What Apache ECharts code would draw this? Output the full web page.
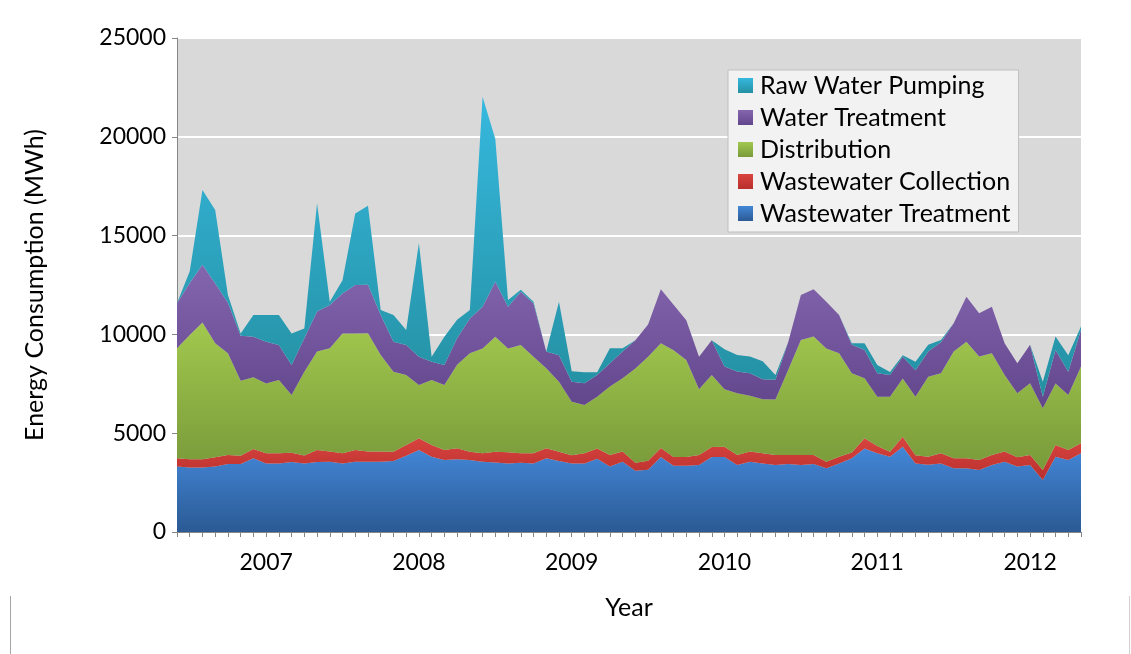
<!DOCTYPE html>
<html>
<head>
<meta charset="utf-8">
<script src="https://cdn.jsdelivr.net/npm/echarts@6/dist/echarts.min.js"></script>
<style>
  html, body { margin: 0; padding: 0; background: #ffffff; }
  #chart { width: 1131px; height: 654px; }
</style>
</head>
<body>
<div id="chart"></div>
<script>
// Monthly categories, June 2006 – May 2012
const months = [
  "2006-06","2006-07","2006-08","2006-09","2006-10","2006-11","2006-12",
  "2007-01","2007-02","2007-03","2007-04","2007-05","2007-06","2007-07","2007-08","2007-09","2007-10","2007-11","2007-12",
  "2008-01","2008-02","2008-03","2008-04","2008-05","2008-06","2008-07","2008-08","2008-09","2008-10","2008-11","2008-12",
  "2009-01","2009-02","2009-03","2009-04","2009-05","2009-06","2009-07","2009-08","2009-09","2009-10","2009-11","2009-12",
  "2010-01","2010-02","2010-03","2010-04","2010-05","2010-06","2010-07","2010-08","2010-09","2010-10","2010-11","2010-12",
  "2011-01","2011-02","2011-03","2011-04","2011-05","2011-06","2011-07","2011-08","2011-09","2011-10","2011-11","2011-12",
  "2012-01","2012-02","2012-03","2012-04","2012-05"
];

// Year labels shown under the January of each year
const yearTicks = ["2007", "2008", "2009", "2010", "2011", "2012"];

// Energy consumption by process (MWh per month)
const wastewaterTreatment = [
  3310, 3260, 3260, 3310, 3440, 3440, 3730, 3470, 3470, 3540, 3470, 3540,
  3560, 3470, 3560, 3560, 3560, 3590, 3860, 4150, 3810, 3640, 3680, 3640,
  3560, 3520, 3470, 3510, 3470, 3730, 3590, 3470, 3470, 3710, 3310, 3560,
  3100, 3150, 3800, 3350, 3350, 3390, 3800, 3800, 3390, 3560, 3470, 3390,
  3440, 3390, 3440, 3220, 3470, 3730, 4230, 3980, 3810, 4320, 3470, 3400,
  3470, 3220, 3220, 3140, 3390, 3560, 3310, 3390, 2630, 3810, 3640, 3980
];
const wastewaterCollection = [
  420, 420, 420, 470, 460, 420, 470, 510, 510, 470, 400, 610,
  510, 510, 590, 510, 510, 470, 540, 590, 590, 510, 560, 420,
  420, 540, 560, 470, 510, 510, 470, 420, 510, 520, 590, 510,
  400, 450, 450, 450, 450, 510, 500, 520, 510, 510, 510, 510,
  460, 510, 460, 340, 340, 290, 510, 370, 250, 500, 420, 410,
  510, 510, 510, 510, 510, 510, 470, 510, 510, 590, 510, 510
];
const distribution = [
  5570, 6290, 6920, 5770, 5140, 3800, 3630, 3540, 3710, 2920, 4240, 4980,
  5230, 6070, 5900, 5990, 4890, 4050, 3540, 2700, 3290, 3290, 4220, 4980,
  5310, 5820, 5260, 5480, 4890, 4050, 3540, 2700, 2450, 2620, 3460, 3710,
  4780, 5270, 5300, 5400, 4900, 3330, 3640, 2910, 3120, 2830, 2740, 2800,
  4300, 5820, 5990, 5730, 5230, 4020, 3040, 2500, 2780, 2950, 2950, 4050,
  4050, 5400, 5900, 5230, 5140, 3880, 3240, 3630, 3120, 3120, 2780, 3880
];
const waterTreatment = [
  2280, 2630, 2920, 3030, 2560, 2270, 2050, 2110, 1770, 1520, 1690, 2030,
  2190, 2020, 2450, 2450, 2020, 1520, 1520, 1430, 930, 1010, 1350, 1770,
  2110, 2780, 2110, 2700, 2700, 840, 1350, 1010, 1100, 1100, 1180, 1350,
  1420, 1630, 2740, 2300, 2020, 1640, 1770, 1140, 1100, 1140, 1010, 1000,
  1400, 2280, 2400, 2360, 1940, 1430, 1430, 1180, 1100, 1100, 1350, 1270,
  1570, 1430, 2280, 2190, 2360, 1600, 1520, 1940, 590, 1690, 1180, 1860
];
const rawWaterPumping = [
  0, 600, 3790, 3710, 400, 120, 1100, 1350, 1520, 1600, 500, 5480,
  160, 670, 3620, 4000, 250, 1350, 760, 5750, 250, 1430, 930, 420,
  10630, 7230, 340, 100, 80, 0, 2700, 540, 560, 140, 760, 170,
  0, 0, 0, 0, 0, 0, 0, 880, 840, 840, 910, 250,
  0, 0, 0, 0, 0, 80, 340, 420, 160, 80, 420, 340,
  120, 0, 0, 0, 0, 0, 0, 0, 760, 680, 840, 170
];

const FONT = 'Lato, "Open Sans", sans-serif';

function vgrad(top, bottom) {
  return new echarts.graphic.LinearGradient(0, 0, 0, 1, [
    { offset: 0, color: top },
    { offset: 1, color: bottom }
  ]);
}

// Bottom-to-top stacking order
const layers = [
  { name: 'Wastewater Treatment', data: wastewaterTreatment, top: '#4387d8', bottom: '#2b5a94' },
  { name: 'Wastewater Collection', data: wastewaterCollection, top: '#d9443f', bottom: '#b9302d' },
  { name: 'Distribution', data: distribution, top: '#a2c84e', bottom: '#799a3a' },
  { name: 'Water Treatment', data: waterTreatment, top: '#8466ae', bottom: '#62468c' },
  { name: 'Raw Water Pumping', data: rawWaterPumping, top: '#36b8de', bottom: '#2490a2' }
];

const chart = echarts.init(document.getElementById('chart'), null, { renderer: 'canvas' });

chart.setOption({
  backgroundColor: '#ffffff',
  animation: false,
  textStyle: { fontFamily: FONT },
  grid: {
    left: 177, right: 50, top: 38, bottom: 122,
    show: true, backgroundColor: '#d9d9d9', borderWidth: 0
  },
  // chart-area frame edges at the lower corners
  graphic: [
    { type: 'line', shape: { x1: 10.5, y1: 596, x2: 10.5, y2: 654 }, style: { stroke: '#a6a6a6', lineWidth: 1 }, silent: true },
    { type: 'line', shape: { x1: 1129.5, y1: 596, x2: 1129.5, y2: 654 }, style: { stroke: '#d0d0d0', lineWidth: 1 }, silent: true }
  ],
  legend: {
    orient: 'vertical',
    left: 728, top: 70,
    data: ['Raw Water Pumping', 'Water Treatment', 'Distribution', 'Wastewater Collection', 'Wastewater Treatment'],
    icon: 'rect',
    itemWidth: 15, itemHeight: 15,
    itemGap: 7,
    padding: [3, 8, 6, 10],
    backgroundColor: '#f2f2f2',
    borderColor: '#bfbfbf',
    borderWidth: 1,
    textStyle: { fontFamily: FONT, fontSize: 25, color: '#000', lineHeight: 25, padding: [0, 0, 0, 2] }
  },
  xAxis: {
    type: 'category',
    data: months,
    boundaryGap: false,
    name: 'Year',
    nameLocation: 'middle',
    nameGap: 63,
    nameTextStyle: { fontFamily: FONT, fontSize: 25, color: '#000' },
    axisLine: { show: true, lineStyle: { color: '#868686', width: 1 } },
    axisTick: { show: true, interval: 0, length: 5, lineStyle: { color: '#868686' } },
    axisLabel: {
      interval: function (idx, val) { return val.slice(5) === '01'; },
      formatter: function (val) {
        const y = val.slice(0, 4);
        return yearTicks.indexOf(y) >= 0 ? y : '';
      },
      margin: 19,
      fontFamily: FONT, fontSize: 23, color: '#000'
    },
    splitLine: { show: false }
  },
  yAxis: {
    type: 'value',
    min: 0, max: 25000, interval: 5000,
    name: 'Energy Consumption (MWh)',
    nameLocation: 'middle',
    nameRotate: 90,
    nameGap: 130,
    nameTextStyle: { fontFamily: FONT, fontSize: 25, color: '#000' },
    axisLine: { show: true, lineStyle: { color: '#868686', width: 1 } },
    axisTick: { show: true, length: 5, lineStyle: { color: '#868686' } },
    axisLabel: {
      margin: 11, fontFamily: FONT, fontSize: 23, color: '#000',
      formatter: function (v) { return String(v); }
    },
    splitLine: { show: true, lineStyle: { color: '#ffffff', width: 2 } }
  },
  series: layers.map(function (l) {
    return {
      name: l.name,
      type: 'line',
      stack: 'energy',
      data: l.data,
      symbol: 'none',
      smooth: false,
      lineStyle: { width: 0 },
      itemStyle: { color: vgrad(l.top, l.bottom) },
      areaStyle: { opacity: 1, color: vgrad(l.top, l.bottom) },
      emphasis: { disabled: true }
    };
  })
});
</script>
</body>
</html>
